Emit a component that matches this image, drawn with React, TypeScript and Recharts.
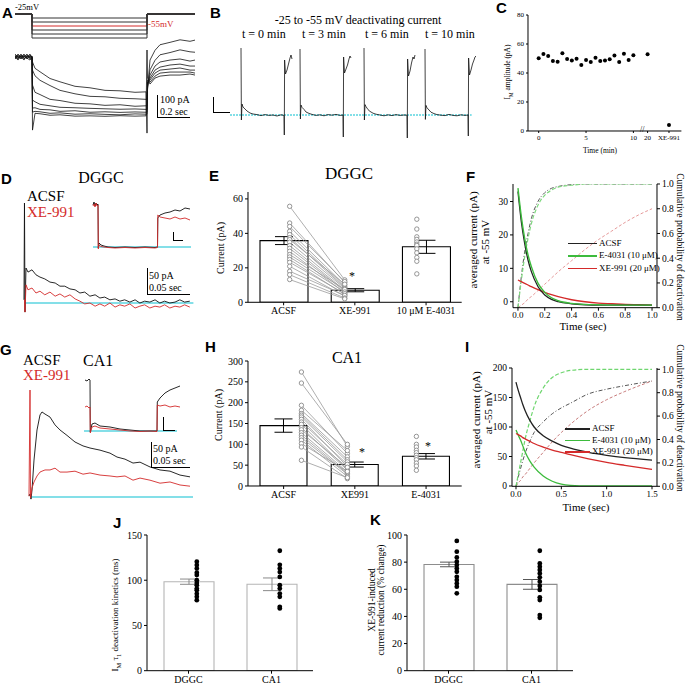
import React from 'react';
import {
  LineChart, Line, XAxis, YAxis, ReferenceLine,
  ComposedChart, Bar, ErrorBar, Scatter, ScatterChart,
} from 'recharts';

const SERIF = '"Liberation Serif", "Times New Roman", serif';
const SANS = '"Liberation Sans", Arial, sans-serif';
const CYAN = '#5bd5e0';
const RED = '#d42a2a';
const GREEN = '#3dbb3d';
const INK = '#111';

// ================= A : voltage protocol and currents =================
const A_HOLD = -25;
const A_STEPS = [-35, -45, -55, -65, -75, -85];
const A_STEP_T = [0, 0.102, 0.102, 0.792, 0.792, 1.08];
const A_T = [0, 0.018, 0.036, 0.054, 0.072, 0.09, 0.102, 0.105, 0.12, 0.15, 0.21, 0.27, 0.36, 0.45, 0.54, 0.63, 0.72, 0.786, 0.792, 0.795, 0.81, 0.84, 0.87, 0.93, 0.99, 1.05, 1.08];
const A_TR1 = [13, -7, 20, -13, 7, 0, 7, -33, -75, -98, -143, -165, -195, -205, -222, -225, -235, -232, -507, -220, -20, 45, 82, 98, 115, 105, 113];
const A_TR2 = [0, 13, -13, 7, -7, 13, 0, -87, -125, -155, -190, -222, -245, -262, -265, -275, -278, -282, -282, -207, -85, -22, 15, 30, 48, 35, 32];
const A_TR3 = [-13, 7, 0, 20, -7, -20, 0, -187, -235, -250, -282, -290, -308, -312, -322, -318, -328, -325, -325, -193, -120, -60, -33, -20, -13, -27, -20];
const A_TR4 = [7, -13, 13, -7, 0, 20, -7, -287, -298, -315, -325, -335, -338, -342, -345, -348, -346, -349, -349, -180, -140, -87, -67, -53, -47, -60, -60];
const A_TR5 = [-7, 20, 0, -20, 13, -7, 7, -340, -338, -349, -352, -362, -358, -368, -365, -369, -366, -368, -368, -167, -153, -107, -87, -80, -73, -87, -87];
const A_TR6 = [20, 0, -7, 13, -13, 7, 0, -367, -362, -365, -375, -372, -381, -378, -382, -385, -379, -381, -381, -153, -167, -127, -107, -100, -100, -100, -107];
const A_TR7 = [0, -20, 7, 0, 20, -13, -7, -487, -375, -378, -388, -385, -394, -392, -395, -391, -394, -392, 47, -140, -180, -140, -127, -120, -120, -113, -120];

// ================= B : deactivating current over time =================
const B_SWEEP_START = [0.066, 0.42, 0.804, 1.17];
const B_DT = [0, 0.0024, 0.006, 0.012, 0.024, 0.036, 0.054, 0.072, 0.096, 0.12, 0.144, 0.168, 0.192, 0.216, 0.24, 0.258, 0.2598, 0.2616, 0.267, 0.276, 0.285, 0.294, 0.3, 0.306];
const B_SW1 = [335, -25, 55, 40, 30, 20, 10, 5, 2, -3, 2, -2, 0, -5, 1, -2, -100, 275, 205, 225, 255, 285, 300, 280];
const B_SW2 = [330, -20, 50, 38, 28, 15, 8, 3, -2, 1, -4, 2, -1, 3, -2, 0, -110, 290, 210, 230, 250, 280, 295, 285];
const B_SW3 = [335, -25, 52, 42, 27, 18, 9, 4, 0, -4, 1, -3, 2, -2, 0, -1, -115, 280, 195, 220, 260, 290, 280, 300];
const B_SW4 = [330, -22, 48, 36, 25, 14, 7, 2, -1, -3, 3, -2, -4, 1, -2, 0, -105, 285, 200, 225, 255, 275, 290, 295];
const B_LABELS = ['t = 0 min', 't = 3 min', 't = 6 min', 't = 10 min'];

// ================= C : I_M amplitude over time =================
const C_TIME = [0, 0.5, 1, 1.5, 2, 2.5, 3, 3.5, 4, 4.5, 5, 5.5, 6, 6.5, 7, 7.5, 8, 8.5, 9, 9.5, 10];
const C_AMP = [50.1, 53.1, 51.7, 48.3, 47.8, 53.6, 49.7, 48.7, 49.9, 45.5, 49, 47.6, 50.6, 48.3, 48.7, 49.4, 52, 47.6, 53.3, 49, 52.2];
const C_LATE_POS = 11.5;
const C_LATE_AMP = 52.9;
const C_XE_POS = 13.76;
const C_XE_AMP = 4.1;
const C_TICKS = [0, 5, 10, 11.5, 13.76];
const C_TICK_LABELS = ['0', '5', '10', '20', 'XE-991'];

// ================= D : DGGC traces =================
const D_T = [0, 0.6, 1.25, 2.5, 5, 10, 15, 20, 26, 32.5, 39, 45, 51, 57.5, 64, 70, 76, 82.5, 89, 95, 101, 107.5, 114, 120, 126, 132.5, 139, 145, 151, 157.5, 164, 170, 176, 182.5, 189, 195, 201, 207.5];
const D_ACSF = [7, 220, -20, 77, 68, 73, 62, 57, 53, 46, 44, 37, 37, 31, 29, 22, 24, 15, 18, 11, 13, 7, 9, 4, 7, 2, 7, 0, 4, 2, 7, 0, 4, 0, 2, 7, 2, 4];
const D_XE = [7, 7, -20, 40, 29, 33, 22, 26, 18, 24, 15, 20, 13, 18, 9, 4, -2, 0, -7, -2, -7, 0, -9, -4, -7, -2, -11, -7, -4, -11, -7, -9, -4, -11, -7, -9, -4, -9];
const DI_T = [5, 10, 15, 20, 25, 30, 31.5, 35, 45, 60, 80, 115, 165, 215, 265, 315, 327.5, 329, 340, 365, 390, 415, 440, 465, 490];
const DI_ACSF = [420, 450, 410, 440, 420, 430, -10, 40, 20, 10, 0, -5, 0, -5, 0, -5, 0, 290, 320, 340, 350, 370, 360, 390, 380];
const DI_XE = [410, 430, 400, 440, 410, 420, -20, 20, 5, 0, -5, -10, -5, -10, -5, -10, -5, 320, 300, 290, 280, 300, 280, 290, 270];

// ================= E : DGGC currents =================
const E_CATS = ['ACSF', 'XE-991', '10 \u03bcM E-4031'];
const E_MEANS = [35.8, 7, 32.2];
const E_SEM = [2.3, 0.9, 3.8];
const E_ACSF = [55.7, 46, 44, 41.2, 39.3, 37.5, 36.4, 34.8, 32.9, 31.3, 29.6, 27.7, 26.3, 24.8, 23.2, 20.9, 18, 16, 13.2];
const E_XE = [13, 11.5, 12, 10, 9, 8.5, 10.5, 8, 7, 6.5, 5.5, 7.5, 6, 4.5, 5, 3.5, 4, 2.5, 2];
const E_E4031 = [48.2, 42.5, 38, 36.5, 35, 33.7, 33, 31, 28.7, 26, 23.8, 16.5];
const E_PT_X = [0.585, 1.358, 2.37];

// ================= F : DGGC averaged current =================
const F_T = [0, 0.025, 0.05, 0.075, 0.1, 0.15, 0.2, 0.25, 0.3, 0.4, 0.5, 0.6, 0.7, 0.8, 0.9, 1.0];
const F_ACSF = [33, 24, 17.5, 12.5, 9, 4.5, 2, 0.7, 0, -0.6, -0.9, -1, -1, -1, -1, -1];
const F_E4031 = [34, 25.5, 19, 14, 10.5, 5.5, 2.8, 1.2, 0.3, -0.5, -0.8, -0.9, -1, -1, -1, -1];
const F_XE = [6.5, 6, 5.5, 5, 4.5, 3.6, 2.8, 2.1, 1.5, 0.6, 0, -0.4, -0.6, -0.8, -0.9, -1];
const F_CUM_ACSF = [0, 0.25, 0.45, 0.6, 0.72, 0.86, 0.93, 0.965, 0.98, 0.995, 1, 1, 1, 1, 1, 1];
const F_CUM_E4031 = [0, 0.22, 0.41, 0.56, 0.68, 0.83, 0.91, 0.95, 0.975, 0.99, 1, 1, 1, 1, 1, 1];
const F_CUM_XE = [0, 0.02, 0.04, 0.07, 0.09, 0.14, 0.19, 0.24, 0.29, 0.38, 0.47, 0.55, 0.62, 0.69, 0.75, 0.8];

// ================= G : CA1 traces =================
const G_T = [0, 1.25, 1.9, 2.5, 3.75, 6.25, 10, 13.75, 16.25, 20, 26.25, 32.5, 38.75, 47.5, 57.5, 67.5, 76.25, 88.75, 101.25, 110, 120, 130, 138.75, 151.25, 163.75, 176.25, 188.75, 201.25];
const G_ACSF = [3, 10, 0, -7, 23, 123, 223, 273, 283, 276, 266, 240, 223, 205, 183, 170, 163, 156, 146, 133, 126, 113, 116, 100, 90, 86, 73, 67];
const G_XE = [3, 356, -3, 7, 30, 50, 70, 83, 86, 90, 90, 96, 83, 83, 86, 76, 80, 73, 70, 67, 70, 56, 63, 56, 46, 50, 40, 36];
const GI_T = [5, 15, 25, 30, 31.5, 40, 55, 80, 130, 180, 230, 280, 330, 365, 366.5, 380, 405, 430, 455, 480];
const GI_ACSF = [510, 500, 520, 510, -10, 70, 80, 50, 40, 20, 10, 0, 0, 0, 290, 330, 380, 410, 430, 450];
const GI_XE = [240, 250, 230, 240, -20, 40, 50, 30, 20, 10, 0, -5, 0, -5, 260, 250, 260, 240, 250, 240];

// ================= H : CA1 currents =================
const H_CATS = ['ACSF', 'XE991', 'E-4031'];
const H_MEANS = [145, 51.5, 71.3];
const H_SEM = [16, 6, 6.5];
const H_ACSF = [273.6, 247, 193.7, 181.7, 173.8, 170, 165.6, 160, 153.6, 148, 140, 135, 128, 122, 116, 110, 101.8, 93.6, 61.7];
const H_XE = [95, 100, 78, 85, 70, 63, 58, 47, 52, 40, 38, 45, 33.6, 30, 28, 23, 35, 17.6, 20];
const H_E4031 = [119, 100, 93.6, 85.7, 80, 73.7, 68, 63, 55, 48, 37.7];
const H_PT_X = [0.75, 1.395, 2.364];

// ================= I : CA1 averaged current =================
const I_T = [0, 0.025, 0.05, 0.075, 0.1, 0.15, 0.2, 0.3, 0.4, 0.5, 0.6, 0.8, 1.0, 1.2, 1.5];
const I_ACSF = [176, 162, 150, 138, 128, 112, 100, 85, 76, 69, 64, 57, 52, 48, 44];
const I_E4031 = [95, 86, 78, 68, 58, 43, 32, 17, 8, 3, 1, 0, 0, 0, 0];
const I_XE = [89, 87, 85, 82, 80, 76, 72, 66, 61, 57, 53, 46, 40, 35, 28];
const I_CUM_ACSF = [0, 0.08, 0.15, 0.22, 0.28, 0.38, 0.46, 0.55, 0.62, 0.67, 0.71, 0.79, 0.83, 0.86, 0.9];
const I_CUM_E4031 = [0, 0.1, 0.2, 0.3, 0.4, 0.55, 0.68, 0.84, 0.93, 0.97, 0.99, 1, 1, 1, 1];
const I_CUM_XE = [0, 0.03, 0.05, 0.08, 0.1, 0.15, 0.2, 0.29, 0.38, 0.46, 0.53, 0.65, 0.74, 0.81, 0.9];

// ================= J / K : summary =================
const JK_CATS = ['DGGC', 'CA1'];
const J_MEANS = [98.4, 95.5];
const J_SEM = [2.9, 7];
const J_DGGC = [120.5, 116.8, 113, 108.3, 105.7, 100, 97, 94.5, 90.8, 89, 85, 81.6, 77.9];
const J_CA1 = [132.6, 117, 113, 109, 103.6, 94.5, 90.8, 85.3, 81.6, 70.6, 68.8];
const K_MEANS = [78.3, 63.6];
const K_SEM = [1.7, 3.6];
const K_DGGC = [95.6, 87.7, 83.5, 80.3, 77.8, 75.4, 72.9, 69.2, 66.8, 64.3, 61.9, 57];
const K_CA1 = [88.4, 79, 76.6, 74.2, 71.7, 68.8, 65.6, 62.4, 59.5, 54.1, 52.1, 41, 39];
const JK_PT_X = [0.6, 1.6];

// ---------------- helpers ----------------
const rows = (t: number[], v: number[]) => t.map((tt, i) => ({ t: tt, v: v[i] }));

function Txt({ x, y, size, children, color = '#000', sans = false, bold = false, anchor = 'start' }: any) {
  const asc = sans ? 0.8465 : 0.8375;
  const tx = anchor === 'middle' ? 'translateX(-50%)' : anchor === 'end' ? 'translateX(-100%)' : undefined;
  return (
    <div style={{ position: 'absolute', left: x, top: y - asc * size, fontSize: size, lineHeight: 1, fontFamily: sans ? SANS : SERIF, fontWeight: bold ? 700 : 400, color, whiteSpace: 'nowrap', transform: tx }}>
      {children}
    </div>
  );
}

function VTxt({ cx, cy, size, children, rot = -90, color = '#000' }: any) {
  return (
    <div style={{ position: 'absolute', left: cx, top: cy, fontSize: size, lineHeight: 1, fontFamily: SERIF, color, whiteSpace: 'nowrap', transform: `translate(-50%, -50%) rotate(${rot}deg)` }}>
      {children}
    </div>
  );
}

function Seg({ x1, y1, x2, y2, color = '#000', w = 1 }: any) {
  if (y1 === y2) {
    return <div style={{ position: 'absolute', left: Math.min(x1, x2), top: y1 - w / 2, width: Math.abs(x2 - x1), height: w, background: color }} />;
  }
  return <div style={{ position: 'absolute', left: x1 - w / 2, top: Math.min(y1, y2), width: w, height: Math.abs(y2 - y1), background: color }} />;
}

function Letter({ x, y, children }: any) {
  return <Txt x={x} y={y} size={15} sans bold>{children}</Txt>;
}

function TraceBox({ box, xd, yd, series, base }: any) {
  const [x0, y0, x1, y1] = box;
  return (
    <div style={{ position: 'absolute', left: x0, top: y0 }}>
      <LineChart width={x1 - x0} height={y1 - y0} margin={{ top: 0, right: 0, bottom: 0, left: 0 }}>
        <XAxis type="number" dataKey="t" domain={xd} hide allowDataOverflow />
        <YAxis type="number" domain={yd} hide allowDataOverflow />
        {base ? (
          <ReferenceLine segment={[{ x: base[0], y: 0 }, { x: base[1], y: 0 }]} stroke={CYAN} strokeWidth={1.3} strokeDasharray={base[2]} ifOverflow="visible" />
        ) : null}
        {series.map((s: any, i: number) => (
          <Line key={i} data={s.data} dataKey="v" type="linear" stroke={s.color} strokeWidth={s.w ?? 0.8} dot={false} activeDot={false} isAnimationActive={false} />
        ))}
      </LineChart>
    </div>
  );
}

const tickStyle = (size: number) => ({ fontSize: size, fill: '#000', fontFamily: SERIF });

function BarPanel({ plot, yd, yTicks, cats, means, errs, barSize, barStroke, errStroke, groups, pairs, hollow }: any) {
  const [x0, y0, x1, y1] = plot;
  const L = 40, B = 20, TM = 6, R = 4;
  const data = cats.map((c: string, i: number) => ({ name: c, value: means[i], err: errs[i] }));
  const dotShape = (p: any) =>
    hollow ? <circle cx={p.cx} cy={p.cy} r={2.2} fill="#fff" stroke="#8a8a8a" strokeWidth={0.9} /> : <circle cx={p.cx} cy={p.cy} r={2.4} fill="#000" />;
  return (
    <div style={{ position: 'absolute', left: x0 - L, top: y0 - TM }}>
      <ComposedChart width={x1 - x0 + L + R} height={y1 - y0 + TM + B} data={data} margin={{ top: TM, right: R, left: 0, bottom: 0 }}>
        <XAxis xAxisId="cat" dataKey="name" type="category" height={B} interval={0} tickSize={3} tick={tickStyle(10)} axisLine={{ stroke: '#000' }} tickLine={{ stroke: '#000' }} />
        <XAxis xAxisId="num" dataKey="x" type="number" domain={[0, cats.length]} hide allowDataOverflow />
        <YAxis width={L} domain={yd} ticks={yTicks} interval={0} tickSize={3} tick={tickStyle(10)} axisLine={{ stroke: '#000' }} tickLine={{ stroke: '#000' }} allowDataOverflow />
        <Bar xAxisId="cat" dataKey="value" barSize={barSize} fill="#fff" stroke={barStroke} strokeWidth={1.1} isAnimationActive={false}>
          <ErrorBar dataKey="err" width={9} stroke={errStroke} strokeWidth={1} />
        </Bar>
        {pairs
          ? pairs.a.map((a: number, i: number) => (
              <Scatter key={'p' + i} xAxisId="num" dataKey="y" data={[{ x: pairs.xa, y: a }, { x: pairs.xb, y: pairs.b[i] }]} line={{ stroke: '#9a9a9a', strokeWidth: 0.8 }} shape={dotShape} isAnimationActive={false} />
            ))
          : null}
        {groups.map((g: any, i: number) => (
          <Scatter key={'g' + i} xAxisId="num" dataKey="y" data={g.ys.map((y: number) => ({ x: g.x, y }))} shape={dotShape} isAnimationActive={false} />
        ))}
      </ComposedChart>
    </div>
  );
}

function DecayPanel({ plot, t, series, xd, xTicks, ld, lTicks, rd }: any) {
  const [x0, y0, x1, y1] = plot;
  const L = 22, R = 24, TM = 6, B = 14;
  const data = t.map((tt: number, i: number) => {
    const r: any = { t: tt };
    series.forEach((s: any) => { r[s.key] = s.values[i]; });
    return r;
  });
  return (
    <div style={{ position: 'absolute', left: x0 - L, top: y0 - TM }}>
      <LineChart width={x1 - x0 + L + R} height={y1 - y0 + TM + B} data={data} margin={{ top: TM, right: 0, left: 0, bottom: 0 }}>
        <XAxis type="number" dataKey="t" domain={xd} ticks={xTicks} interval={0} tickFormatter={(v: number) => v.toFixed(1)} height={B} tickSize={3} tickMargin={1} tick={tickStyle(9)} axisLine={{ stroke: '#000' }} tickLine={{ stroke: '#000' }} allowDataOverflow />
        <YAxis yAxisId="l" domain={ld} ticks={lTicks} interval={0} width={L} tickSize={3} tick={tickStyle(9.5)} axisLine={{ stroke: '#000' }} tickLine={{ stroke: '#000' }} allowDataOverflow />
        <YAxis yAxisId="r" orientation="right" domain={rd} ticks={[0, 0.2, 0.4, 0.6, 0.8, 1]} interval={0} width={R} tickFormatter={(v: number) => v.toFixed(1)} tickSize={3} tick={tickStyle(9.5)} axisLine={{ stroke: '#000' }} tickLine={{ stroke: '#000' }} allowDataOverflow />
        {series.map((s: any) => (
          <Line key={s.key} yAxisId={s.axis} dataKey={s.key} type="monotone" stroke={s.color} strokeWidth={s.w} strokeDasharray={s.dash} dot={false} activeDot={false} isAnimationActive={false} />
        ))}
      </LineChart>
    </div>
  );
}

function Legend3({ x1, x2, ys, size }: any) {
  const items = [
    { c: '#222', t: 'ACSF' },
    { c: GREEN, t: 'E-4031 (10 \u03bcM)' },
    { c: RED, t: 'XE-991 (20 \u03bcM)' },
  ];
  return (
    <>
      {items.map((it, i) => (
        <React.Fragment key={i}>
          <Seg x1={x1} x2={x2} y1={ys[i]} y2={ys[i]} color={it.c} w={1.2} />
          <Txt x={x2 + 2} y={ys[i] + 3} size={size}>{it.t}</Txt>
        </React.Fragment>
      ))}
    </>
  );
}

export default function App() {
  // the highlighted -55 mV step is drawn first so the shared segments stay dark
  const protoOrder = [...A_STEPS].sort((a, b) => (b === -55 ? 1 : 0) - (a === -55 ? 1 : 0));
  const aTraces = [A_TR1, A_TR2, A_TR3, A_TR4, A_TR5, A_TR6, A_TR7];
  const bSweeps = [B_SW1, B_SW2, B_SW3, B_SW4];
  const cData = [
    ...C_TIME.map((t, i) => ({ x: t, y: C_AMP[i] })),
    { x: C_LATE_POS, y: C_LATE_AMP },
    { x: C_XE_POS, y: C_XE_AMP },
  ];

  const fSeries = [
    { key: 'cx', values: F_CUM_XE, axis: 'r', color: '#e59a9a', w: 1, dash: '3 2' },
    { key: 'ca', values: F_CUM_ACSF, axis: 'r', color: '#555', w: 1, dash: '4 2 1 2' },
    { key: 'ce', values: F_CUM_E4031, axis: 'r', color: '#7fd97f', w: 1.2, dash: '4 2' },
    { key: 'x', values: F_XE, axis: 'l', color: RED, w: 1.3 },
    { key: 'a', values: F_ACSF, axis: 'l', color: '#222', w: 1.3 },
    { key: 'e', values: F_E4031, axis: 'l', color: GREEN, w: 1.4 },
  ];
  const iSeries = [
    { key: 'cx', values: I_CUM_XE, axis: 'r', color: '#c77a7a', w: 1, dash: '3 2' },
    { key: 'ca', values: I_CUM_ACSF, axis: 'r', color: '#555', w: 1, dash: '4 2 1 2' },
    { key: 'ce', values: I_CUM_E4031, axis: 'r', color: '#6fd66f', w: 1.2, dash: '4 2' },
    { key: 'e', values: I_E4031, axis: 'l', color: GREEN, w: 1.3 },
    { key: 'x', values: I_XE, axis: 'l', color: RED, w: 1.3 },
    { key: 'a', values: I_ACSF, axis: 'l', color: '#222', w: 1.3 },
  ];

  return (
    <div style={{ position: 'absolute', left: 0, top: 0, width: 688, height: 684, background: '#fff', overflow: 'hidden', fontFamily: SERIF }}>
      {/* ---------- A ---------- */}
      <Letter x={2} y={18}>A</Letter>
      <TraceBox
        box={[15, 8, 197, 42]} xd={[0, 1.092]} yd={[-95, -10]}
        series={protoOrder.map((v) => ({ data: rows(A_STEP_T, [A_HOLD, A_HOLD, v, v, A_HOLD, A_HOLD]), color: v === -55 ? RED : '#333', w: 1 }))}
      />
      <Txt x={15} y={10} size={8.5}>-25mV</Txt>
      <Txt x={148} y={28} size={9} color={RED}>-55mV</Txt>
      <TraceBox box={[15, 38, 197, 140]} xd={[0, 1.092]} yd={[-553, 127]} series={aTraces.map((tr) => ({ data: rows(A_T, tr), color: INK, w: 0.8 }))} />
      <Seg x1={157} y1={95} x2={157} y2={117} />
      <Seg x1={157} y1={117} x2={190} y2={117} />
      <Txt x={160} y={103} size={10}>100 pA</Txt>
      <Txt x={160} y={115} size={10}>0.2 sec</Txt>

      {/* ---------- B ---------- */}
      <Letter x={210} y={18}>B</Letter>
      <Txt x={358} y={24} size={12} anchor="middle">-25 to -55 mV deactivating current</Txt>
      {B_LABELS.map((l, i) => (
        <Txt key={l} x={[242, 302, 365, 425][i]} y={38} size={12}>{l}</Txt>
      ))}
      <TraceBox
        box={[230, 40, 478, 140]} xd={[0, 1.488]} yd={[-125, 375]} base={[0, 1.45, '2 1']}
        series={bSweeps.map((sw, i) => ({ data: B_DT.map((d, j) => ({ t: B_SWEEP_START[i] + d, v: sw[j] })), color: INK, w: 0.8 }))}
      />
      <Seg x1={213} y1={97} x2={213} y2={112} />
      <Seg x1={213} y1={112} x2={230} y2={112} />

      {/* ---------- C ---------- */}
      <Letter x={496} y={13}>C</Letter>
      <div style={{ position: 'absolute', left: 504.3, top: 10 }}>
        <ScatterChart width={181.4} height={137} margin={{ top: 5, right: 4, left: 0, bottom: 0 }}>
          <XAxis type="number" dataKey="x" domain={[-1.13, 15.07]} ticks={C_TICKS} interval={0} tickFormatter={(v: number) => C_TICK_LABELS[C_TICKS.indexOf(v)]} height={16} tickSize={2} tick={tickStyle(7)} axisLine={{ stroke: '#000' }} tickLine={{ stroke: '#000' }} allowDataOverflow />
          <YAxis type="number" dataKey="y" domain={[0, 80]} ticks={[0, 20, 40, 60, 80]} interval={0} width={24} tickSize={2} tick={tickStyle(7)} axisLine={{ stroke: '#000' }} tickLine={{ stroke: '#000' }} />
          <Scatter data={cData} fill="#000" shape={(p: any) => <circle cx={p.cx} cy={p.cy} r={2} fill="#000" />} isAnimationActive={false} />
        </ScatterChart>
      </div>
      <Txt x={640} y={133} size={8}>//</Txt>
      <VTxt cx={509} cy={72} size={7.5}>I<sub style={{ fontSize: '70%' }}>M</sub> amplitude (pA)</VTxt>
      <Txt x={600} y={153} size={7.5} anchor="middle">Time (min)</Txt>

      {/* ---------- D ---------- */}
      <Letter x={1} y={184}>D</Letter>
      <Txt x={101} y={183} size={16} anchor="middle">DGGC</Txt>
      <Txt x={27} y={202} size={15}>ACSF</Txt>
      <Txt x={27} y={218} size={15} color={RED}>XE-991</Txt>
      <TraceBox
        box={[22, 195, 195, 315]} xd={[-2.5, 214]} yd={[-26.4, 237.6]} base={[2, 212, undefined]}
        series={[{ data: rows(D_T, D_ACSF), color: INK, w: 0.9 }, { data: rows(D_T, D_XE), color: RED, w: 0.9 }]}
      />
      <TraceBox
        box={[92, 198, 193, 252]} xd={[0, 505]} yd={[-50, 490]} base={[5, 495, undefined]}
        series={[{ data: rows(DI_T, DI_ACSF), color: INK, w: 0.9 }, { data: rows(DI_T, DI_XE), color: RED, w: 0.9 }]}
      />
      <Seg x1={173} y1={232} x2={173} y2={240} />
      <Seg x1={173} y1={240} x2={183} y2={240} />
      <Seg x1={147} y1={268} x2={147} y2={294} />
      <Seg x1={147} y1={294} x2={190} y2={294} />
      <Txt x={149} y={279} size={10}>50 pA</Txt>
      <Txt x={149} y={291} size={10}>0.05 sec</Txt>

      {/* ---------- E ---------- */}
      <Letter x={209} y={181}>E</Letter>
      <Txt x={349} y={179} size={17} anchor="middle">DGGC</Txt>
      <VTxt cx={221} cy={248} size={10}>Current (pA)</VTxt>
      <BarPanel
        plot={[248.3, 192.4, 462, 302.7]} yd={[0, 64]} yTicks={[0, 20, 40, 60]}
        cats={E_CATS} means={E_MEANS} errs={E_SEM} barSize={48} barStroke="#000" errStroke="#000"
        pairs={{ xa: E_PT_X[0], xb: E_PT_X[1], a: E_ACSF, b: E_XE }}
        groups={[{ x: E_PT_X[2], ys: E_E4031 }]} hollow
      />
      <Txt x={352} y={280} size={12} anchor="middle">*</Txt>

      {/* ---------- F ---------- */}
      <Letter x={466} y={182}>F</Letter>
      <DecayPanel plot={[513, 184.3, 657, 308]} t={F_T} series={fSeries} xd={[-0.037, 1.037]} xTicks={[0, 0.2, 0.4, 0.6, 0.8, 1]} ld={[-1.78, 35.24]} lTicks={[0, 10, 20, 30]} rd={[0, 1]} />
      <VTxt cx={473} cy={240} size={11}>averaged current (pA)</VTxt>
      <VTxt cx={485} cy={242} size={11}>at -55 mV</VTxt>
      <VTxt cx={679} cy={247} size={9.5} rot={90}>Cumulative probability of deactivation</VTxt>
      <Txt x={583} y={330} size={11} anchor="middle">Time (sec)</Txt>
      <Legend3 x1={568} x2={597} ys={[243.5, 256, 268.5]} size={9} />

      {/* ---------- G ---------- */}
      <Letter x={0} y={355}>G</Letter>
      <Txt x={83} y={366} size={16}>CA1</Txt>
      <Txt x={23} y={366} size={15}>ACSF</Txt>
      <Txt x={23} y={381} size={15} color={RED}>XE-991</Txt>
      <TraceBox
        box={[27, 375, 195, 505]} xd={[-2.5, 207.5]} yd={[-26.6, 406]} base={[3, 205, undefined]}
        series={[{ data: rows(G_T, G_ACSF), color: INK, w: 0.9 }, { data: rows(G_T, G_XE), color: RED, w: 0.9 }]}
      />
      <TraceBox
        box={[84, 375, 186, 436]} xd={[0, 510]} yd={[-50, 560]} base={[0, 465, undefined]}
        series={[{ data: rows(GI_T, GI_ACSF), color: INK, w: 0.9 }, { data: rows(GI_T, GI_XE), color: RED, w: 0.9 }]}
      />
      <Seg x1={163} y1={417} x2={163} y2={430} />
      <Seg x1={163} y1={430} x2={175} y2={430} />
      <Seg x1={151} y1={442} x2={151} y2={467} />
      <Seg x1={151} y1={467} x2={190} y2={467} />
      <Txt x={153} y={452} size={10}>50 pA</Txt>
      <Txt x={153} y={464} size={10}>0.05 sec</Txt>

      {/* ---------- H ---------- */}
      <Letter x={205} y={352}>H</Letter>
      <Txt x={347} y={363} size={16} anchor="middle">CA1</Txt>
      <VTxt cx={219} cy={415} size={10}>Current (pA)</VTxt>
      <BarPanel
        plot={[248.3, 360.7, 462, 485.7]} yd={[0, 300]} yTicks={[0, 50, 100, 150, 200, 250, 300]}
        cats={H_CATS} means={H_MEANS} errs={H_SEM} barSize={47} barStroke="#000" errStroke="#000"
        pairs={{ xa: H_PT_X[0], xb: H_PT_X[1], a: H_ACSF, b: H_XE }}
        groups={[{ x: H_PT_X[2], ys: H_E4031 }]} hollow
      />
      <Txt x={362} y={456} size={12} anchor="middle">*</Txt>
      <Txt x={428} y={450} size={12} anchor="middle">*</Txt>

      {/* ---------- I ---------- */}
      <Letter x={465} y={352}>I</Letter>
      <DecayPanel plot={[512, 367.7, 657, 486]} t={I_T} series={iSeries} xd={[-0.044, 1.555]} xTicks={[0, 0.5, 1, 1.5]} ld={[-0.5, 200]} lTicks={[0, 50, 100, 150, 200]} rd={[0, 1.011]} />
      <VTxt cx={476} cy={420} size={11}>averaged current (pA)</VTxt>
      <VTxt cx={488} cy={412} size={11}>at -55 mV</VTxt>
      <VTxt cx={679} cy={418} size={9.5} rot={90}>Cumulative probability of deactivation</VTxt>
      <Txt x={586} y={511} size={11} anchor="middle">Time (sec)</Txt>
      <Legend3 x1={565} x2={590} ys={[429, 440.5, 452]} size={9} />

      {/* ---------- J ---------- */}
      <Letter x={113} y={528}>J</Letter>
      <VTxt cx={117} cy={615} size={9}>I<sub style={{ fontSize: '70%' }}>M</sub> {'\u03c4'}<sub style={{ fontSize: '70%' }}>1</sub> deactivation kinetics (ms)</VTxt>
      <BarPanel
        plot={[147, 535, 313, 670.7]} yd={[0, 150]} yTicks={[0, 50, 100, 150]}
        cats={JK_CATS} means={J_MEANS} errs={J_SEM} barSize={50} barStroke="#b5b5b5" errStroke="#8a8a8a"
        groups={[{ x: JK_PT_X[0], ys: J_DGGC }, { x: JK_PT_X[1], ys: J_CA1 }]}
      />

      {/* ---------- K ---------- */}
      <Letter x={370} y={525}>K</Letter>
      <VTxt cx={373} cy={600} size={9.5}>XE-991-induced</VTxt>
      <VTxt cx={382} cy={600} size={9.5}>current reduction (% change)</VTxt>
      <BarPanel
        plot={[407, 535, 573, 670.7]} yd={[0, 100]} yTicks={[0, 20, 40, 60, 80, 100]}
        cats={JK_CATS} means={K_MEANS} errs={K_SEM} barSize={50} barStroke="#8d8d8d" errStroke="#555"
        groups={[{ x: JK_PT_X[0], ys: K_DGGC }, { x: JK_PT_X[1], ys: K_CA1 }]}
      />
    </div>
  );
}
